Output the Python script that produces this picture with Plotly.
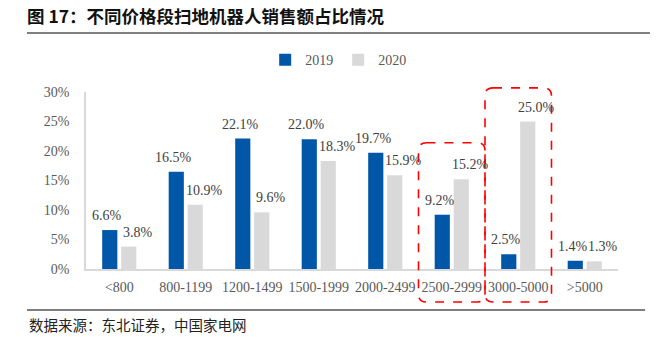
import plotly.graph_objects as go

categories = ["<800", "800-1199", "1200-1499", "1500-1999", "2000-2499", "2500-2999", "3000-5000", ">5000"]
share_2019 = [6.6, 16.5, 22.1, 22.0, 19.7, 9.2, 2.5, 1.4]
share_2020 = [3.8, 10.9, 9.6, 18.3, 15.9, 15.2, 25.0, 1.3]
y_ticks = [0, 5, 10, 15, 20, 25, 30]

# highlighted price ranges (index, top of box in %)
highlights = [(5, 21.4), (6, 30.7)]
box_bottom = -5.6

title_text = "图 17：不同价格段扫地机器人销售额占比情况"
source_text = "数据来源：东北证券，中国家电网"

BLUE = "#0057A8"
GREY = "#D9D9D9"
SERIF = "Liberation Serif, Times New Roman, serif"
CJK = "Noto Sans CJK SC, sans-serif"
LABEL_FONT = dict(family=SERIF, size=14, color="#404040")

BARGAP, GROUPGAP = 0.43, 0.2
n = len(categories)
xs = list(range(n))

fig = go.Figure()
fig.add_trace(go.Bar(
    name="2019", x=xs, y=share_2019,
    marker=dict(color=BLUE, line=dict(width=0)), cliponaxis=False,
))
fig.add_trace(go.Bar(
    name="2020", x=xs, y=share_2020,
    marker=dict(color=GREY, line=dict(width=0)), cliponaxis=False,
))

# value labels above each bar, nudged like the original
offset = (1 - BARGAP) / 4
annotations = []
for vals, sign, xs_px in [(share_2019, -1, -2.5), (share_2020, 1, 9)]:
    for i, v in enumerate(vals):
        annotations.append(dict(x=i + sign * offset, y=v, xref="x", yref="y",
                                text=f"{v:.1f}%", showarrow=False,
                                yanchor="bottom", xanchor="center",
                                xshift=xs_px, yshift=5, font=LABEL_FONT))

ymax = y_ticks[-1]
shapes = []
rx, ry = 0.015, 0.045
for idx, top in highlights:
    x0, x1 = idx / n, (idx + 1) / n
    y0, y1 = box_bottom / ymax, top / ymax
    path = (f"M {x0+rx},{y1} L {x1-rx},{y1} Q {x1},{y1} {x1},{y1-ry} "
            f"L {x1},{y0+ry} Q {x1},{y0} {x1-rx},{y0} L {x0+rx},{y0} "
            f"Q {x0},{y0} {x0},{y0+ry} L {x0},{y1-ry} Q {x0},{y1} {x0+rx},{y1} Z")
    shapes.append(dict(type="path", xref="x domain", yref="y domain", path=path,
                       line=dict(color="#FF0000", width=1.6, dash="dash")))
# title & source rules
shapes.append(dict(type="line", xref="paper", yref="paper", x0=-0.111, x1=1.06, y0=1.333, y1=1.333,
                   line=dict(color="#555555", width=1.5)))
shapes.append(dict(type="line", xref="paper", yref="paper", x0=-0.111, x1=1.051, y0=-0.232, y1=-0.232,
                   line=dict(color="#555555", width=1.5)))

annotations.append(dict(text=source_text, xref="paper", yref="paper", x=-0.111, y=-0.311,
                        xanchor="left", yanchor="middle", showarrow=False,
                        font=dict(family=CJK, size=14.5, color="#222222")))

fig.update_layout(
    width=656, height=337,
    margin=dict(l=86, r=38, t=92, b=68),
    paper_bgcolor="white", plot_bgcolor="white",
    barmode="group", bargap=BARGAP, bargroupgap=GROUPGAP,
    title=dict(text=title_text, x=27/656, xanchor="left", xref="container",
               y=1-17/337, yanchor="middle", yref="container",
               font=dict(family=CJK, size=17.5, color="#111111", weight="bold")),
    legend=dict(orientation="h", x=0.474, xanchor="center", y=1.18, yanchor="middle",
                font=dict(family=SERIF, size=14, color="#595959"),
                itemwidth=30, traceorder="normal"),
    shapes=shapes,
    annotations=annotations,
    xaxis=dict(tickmode="array", tickvals=xs, ticktext=categories,
               range=[-0.5, n - 0.5], showgrid=False, zeroline=False,
               showline=True, linecolor=GREY, linewidth=1.5, ticks="",
               tickfont=dict(family=SERIF, size=14, color="#595959"),
               ticklabelstandoff=4),
    yaxis=dict(range=[0, ymax], tickmode="array", tickvals=y_ticks,
               ticktext=[f"{t}%" for t in y_ticks], showgrid=False,
               zeroline=False, showline=True, linecolor=GREY, linewidth=1.5, ticks="",
               tickfont=dict(family=SERIF, size=14, color="#595959"),
               ticklabelstandoff=12),
)
fig.write_html("out.html")
